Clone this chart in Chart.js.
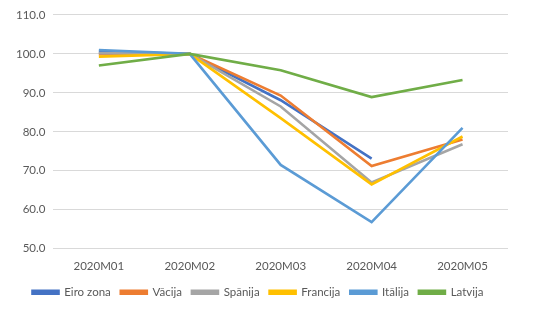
<!DOCTYPE html>
<html>
<head>
<meta charset="utf-8">
<script src="https://cdn.jsdelivr.net/npm/chart.js@4.4.0/dist/chart.umd.min.js"></script>
<style>
  html, body { margin: 0; padding: 0; background: #fff; }
  #wrap { width: 540px; height: 311px; }
</style>
</head>
<body>
<div id="wrap"><canvas id="grafiks"></canvas></div>
<script>
// Mēneši un indeksi (2020M02 = 100)
const menesi = ['2020M01', '2020M02', '2020M03', '2020M04', '2020M05'];
const eiroZona = [100.5, 100, 88.1, 73.1, null];
const vacija = [99.9, 100, 89.3, 71.2, 78.0];
const spanija = [100.2, 100, 86.5, 67.0, 76.8];
const francija = [99.3, 100, 83.5, 66.5, 78.8];
const italija = [101.0, 100, 71.5, 56.8, 81.0];
const latvija = [97.0, 100, 95.8, 88.9, 93.3];
const yTicks = [50, 60, 70, 80, 90, 100, 110];

const rindas = [
    { nosaukums: 'Eiro zona', dati: eiroZona, krasa: '#4472C4' },
    { nosaukums: 'Vācija', dati: vacija, krasa: '#ED7D31' },
    { nosaukums: 'Spānija', dati: spanija, krasa: '#A5A5A5' },
    { nosaukums: 'Francija', dati: francija, krasa: '#FFC000' },
    { nosaukums: 'Itālija', dati: italija, krasa: '#5B9BD5' },
    { nosaukums: 'Latvija', dati: latvija, krasa: '#70AD47' }
];

const ctx = document.getElementById('grafiks').getContext('2d');
new Chart(ctx, {
    type: 'line',
    data: {
        labels: menesi,
        datasets: rindas.map((r, i) => ({
            label: r.nosaukums,
            data: r.dati,
            borderColor: r.krasa,
            backgroundColor: r.krasa,
            borderWidth: 2.6,
            pointRadius: 0,
            tension: 0,
            fill: false,
            order: rindas.length - 1 - i // Excel zīmē pēdējo sēriju virspusē
        }))
    },
    options: {
        responsive: true,
        maintainAspectRatio: false,
        animation: false,
        layout: { padding: { left: 8, right: 32, top: 7, bottom: 3 } },
        plugins: {
            legend: {
                position: 'bottom',
                labels: {
                    sort: (a, b) => a.datasetIndex - b.datasetIndex,
                    boxWidth: 26,
                    boxHeight: 3,
                    padding: 10,
                    color: '#595959',
                    font: { family: 'Lato', size: 11.5 }
                }
            },
            tooltip: { enabled: false }
        },
        scales: {
            x: {
                offset: true,
                grid: { display: false },
                border: { display: false },
                ticks: {
                    color: '#595959',
                    font: { family: 'Lato', size: 11.5 },
                    maxRotation: 0
                }
            },
            y: {
                min: 50,
                max: 110,
                afterBuildTicks: (axis) => {
                    axis.ticks = yTicks.map(v => ({ value: v }));
                },
                grid: { color: '#D9D9D9', lineWidth: 1, drawTicks: false },
                border: { display: false },
                ticks: {
                    color: '#595959',
                    padding: 8,
                    font: { family: 'Lato', size: 11.5 },
                    callback: (v) => Number(v).toFixed(1)
                }
            }
        }
    }
});
</script>
</body>
</html>
